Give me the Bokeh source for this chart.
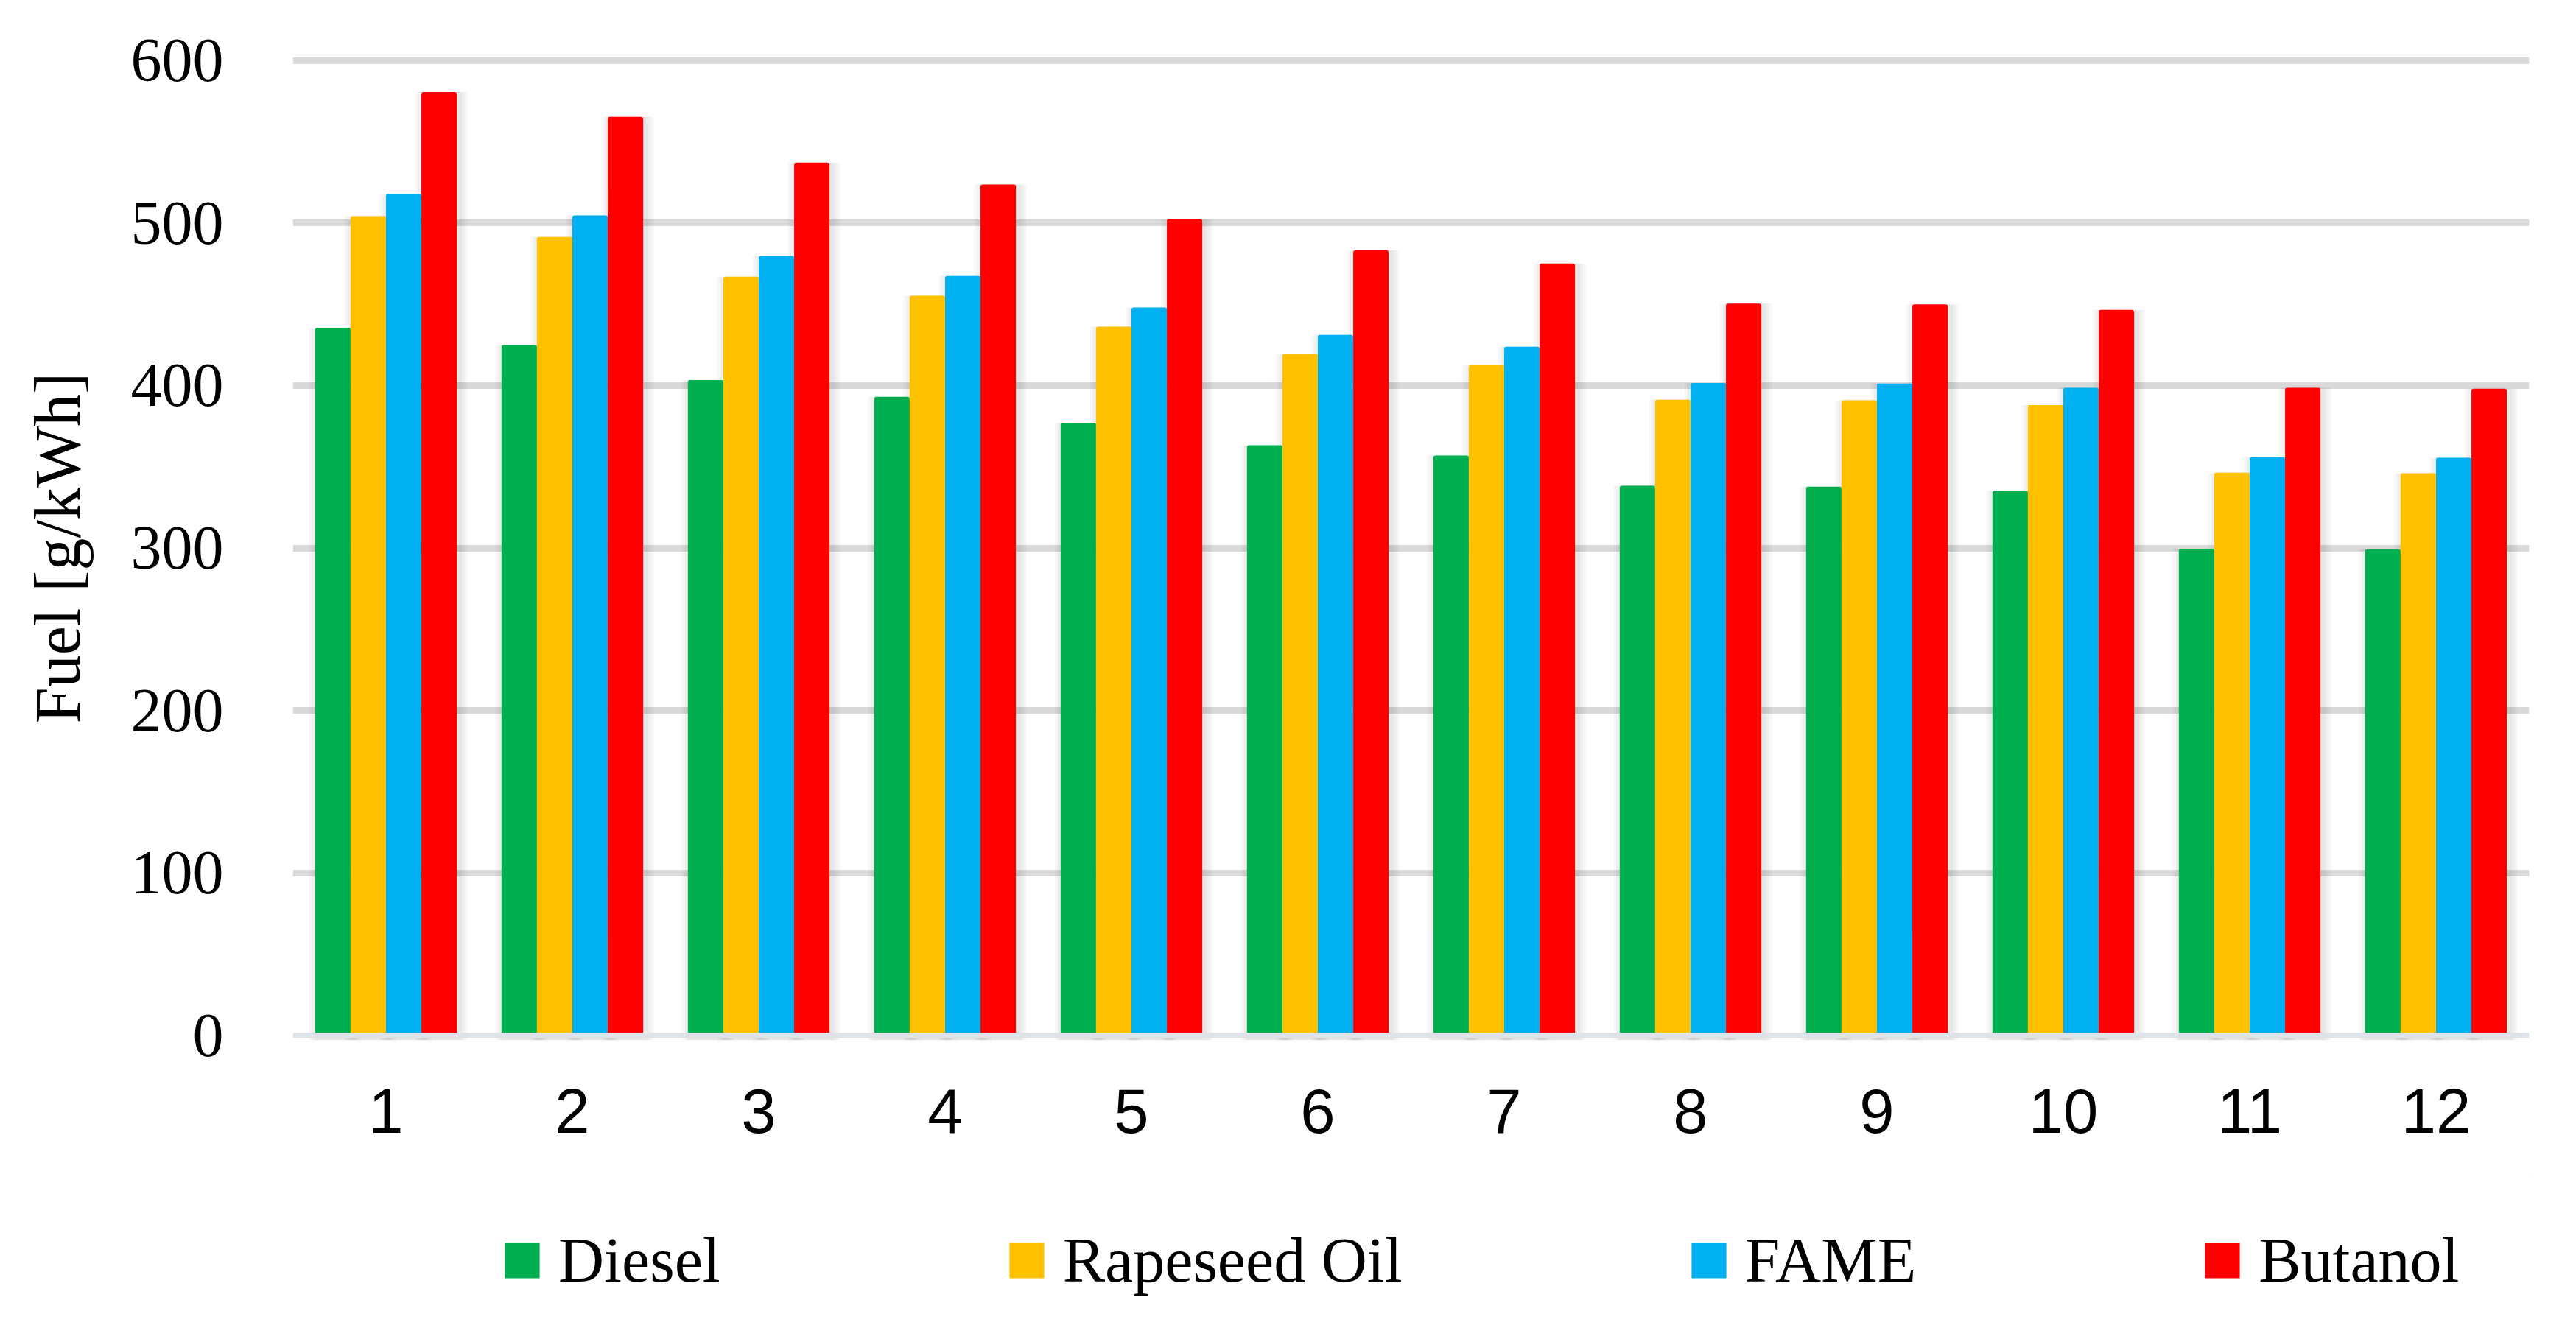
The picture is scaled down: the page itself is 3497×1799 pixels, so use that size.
from bokeh.plotting import figure
from bokeh.models import ColumnDataSource, Range1d, FixedTicker, Span, FactorRange, Legend, LegendItem
from bokeh.transform import dodge
from bokeh.layouts import column
from bokeh.embed import file_html
from bokeh.resources import INLINE

categories = ["1", "2", "3", "4", "5", "6", "7", "8", "9", "10", "11", "12"]
diesel = [435.6, 424.9, 403.4, 393.1, 377.1, 363.2, 356.9, 338.3, 337.7, 335.4, 299.6, 299.2]
rapeseed = [504.3, 491.5, 467.0, 455.3, 436.2, 419.6, 412.6, 391.3, 390.9, 388.0, 346.4, 346.0]
fame = [517.8, 504.7, 479.8, 467.4, 448.0, 431.2, 423.9, 401.6, 401.2, 398.6, 355.9, 355.5]
butanol = [580.6, 565.4, 537.2, 523.7, 502.4, 483.2, 475.1, 450.4, 450.0, 446.6, 398.6, 398.0]
series_names = ["Diesel", "Rapeseed Oil", "FAME", "Butanol"]
series_colors = ["#00b050", "#ffc000", "#00b0f0", "#ff0000"]
y_ticks = [0, 100, 200, 300, 400, 500, 600]

src = ColumnDataSource(dict(cat=categories, diesel=diesel, rapeseed=rapeseed, fame=fame, butanol=butanol))

W = 3481
H1 = 1594
H2 = 1783 - H1

p = figure(x_range=FactorRange(*categories), y_range=Range1d(-4, 604),
           width=W, height=H1, output_backend="svg", toolbar_location=None,
           min_border_left=397, min_border_right=48, min_border_top=73, min_border_bottom=H1 - 1414)
p.outline_line_color = None
p.background_fill_color = "white"
p.border_fill_color = "white"
p.x_range.range_padding = 0
p.x_range.group_padding = 0

bw = 0.19
offsets = [-1.5 * bw, -0.5 * bw, 0.5 * bw, 1.5 * bw]
cols = ["diesel", "rapeseed", "fame", "butanol"]

# soft shadow behind the bars (same data, slightly wider, translucent)
for col, off in zip(cols, offsets):
    for grow in (0.09, 0.06, 0.03):
        p.vbar(x=dodge("cat", off + 0.012, range=p.x_range), top=col, bottom=-3, width=bw + grow,
               source=src, fill_color="black", fill_alpha=0.03, line_color=None)

for col, off, color in zip(cols, offsets, series_colors):
    p.vbar(x=dodge("cat", off, range=p.x_range), top=col, bottom=0, width=bw, source=src,
           fill_color=color, line_color=None, border_radius=3)

# grid
p.xgrid.grid_line_color = None
p.ygrid.ticker = FixedTicker(ticks=[100, 200, 300, 400, 500, 600])
p.ygrid.grid_line_color = "#d9d9d9"
p.ygrid.grid_line_width = 9
p.add_layout(Span(location=0, dimension="width", line_color="#dee3ea", line_width=7))

# axes
p.yaxis.ticker = FixedTicker(ticks=y_ticks)
for ax in (p.xaxis[0], p.yaxis[0]):
    ax.axis_line_color = None
    ax.major_tick_line_color = None
    ax.minor_tick_line_color = None
p.xaxis.major_label_text_font = "Liberation Sans"
p.xaxis.major_label_text_font_size = "85px"
p.xaxis.major_label_text_color = "black"
p.xaxis.major_label_standoff = 58
p.yaxis.major_label_text_font = "Liberation Serif"
p.yaxis.major_label_text_font_size = "84px"
p.yaxis.major_label_text_color = "black"
p.yaxis.major_label_standoff = 88
p.yaxis.axis_label = "Fuel [g/kWh]"
p.yaxis.axis_label_text_font = "Liberation Serif"
p.yaxis.axis_label_text_font_size = "88px"
p.yaxis.axis_label_text_font_style = "normal"
p.yaxis.axis_label_text_color = "black"
p.yaxis.axis_label_standoff = 48

# legend strip below the chart (its frame is aligned with the chart's frame)
q = figure(x_range=Range1d(0, 1), y_range=Range1d(0, 1), width=W, height=H2,
           output_backend="svg", toolbar_location=None, min_border=0)
q.outline_line_color = None
q.axis.visible = False
q.grid.visible = False
items = []
for name, color in zip(series_names, series_colors):
    r = q.vbar(x=[5], top=[5], bottom=[4], width=0.1, fill_color=color, line_color=None)
    items.append(LegendItem(label=name, renderers=[r]))
lg = Legend(items=items, orientation="horizontal", location=(282, 22))
lg.spacing = 386
lg.glyph_width = 59
lg.glyph_height = 60
lg.label_standoff = 20
lg.padding = 0
lg.margin = 0
lg.border_line_color = None
lg.background_fill_alpha = 0
lg.label_text_font = "Liberation Serif"
lg.label_text_font_size = "86px"
lg.label_text_color = "black"
q.add_layout(lg, "center")

layout = column(p, q, spacing=0)
open("out.html", "w").write(file_html(layout, INLINE))
